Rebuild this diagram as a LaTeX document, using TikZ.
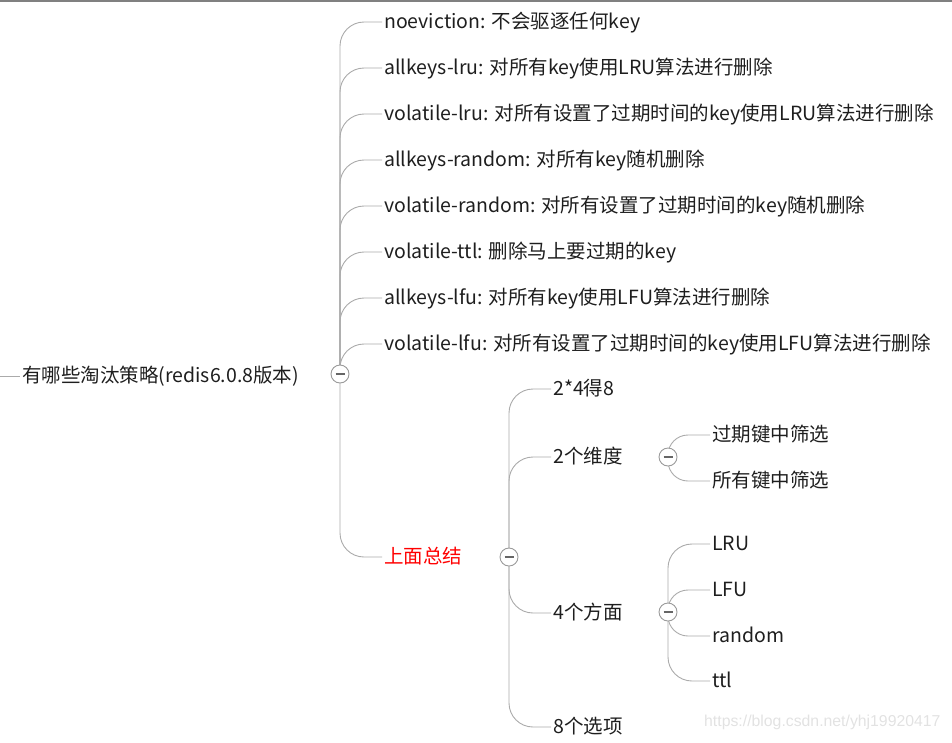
\documentclass[tikz,border=0pt]{standalone}
\usepackage{fontspec}
\setmainfont{Noto Sans CJK SC}
\newfontfamily\wmfont{Liberation Sans}
\definecolor{linegray}{HTML}{ABABAB}
\definecolor{foldgray}{HTML}{9A9A9A}
\definecolor{textdark}{HTML}{1E1E1E}
\definecolor{wmgray}{HTML}{E2E2E2}
\tikzset{
  branch/.style={draw=linegray, line width=0.9pt, rounded corners=24pt},
  topic/.style={anchor=west, inner xsep=2pt, inner ysep=0pt, text=textdark,
    text height=16pt, text depth=4pt, font=\fontsize{19.5}{20}\selectfont},
  fold/.style={circle, draw=foldgray, fill=white, minimum size=18pt, inner sep=0pt,
    line width=0.9pt, path picture={
      \draw[line width=1.5pt, black!60] ([xshift=-4.5pt]path picture bounding box.center)
        -- ([xshift=4.5pt]path picture bounding box.center);}},
}
\begin{document}
\begin{tikzpicture}[x=1pt, y=-1pt]
		%%%%% FRAME %%%%%
		\useasboundingbox (0,0) rectangle (952,742);
		\draw[line width=2.5pt, black!50] (0,1.2) -- (952,1.2);
		
		%%%%% ROOT %%%%%
		\coordinate (edgeL) at (0,376);
		\node[topic] (root) at (20,376) {有哪些淘汰策略(redis6.0.8版本)};
		\draw[branch] (edgeL) -- (root.west);
		
		%%%%% FIRST LEVEL %%%%%
		\coordinate (k0) at (340,374);
		\node[topic] (s1) at (382,22) {noeviction: 不会驱逐任何key};
		\node[topic] (s2) at (382,68) {allkeys-lru: 对所有key使用LRU算法进行删除};
		\node[topic] (s3) at (382,114) {volatile-lru: 对所有设置了过期时间的key使用LRU算法进行删除};
		\node[topic] (s4) at (382,160) {allkeys-random: 对所有key随机删除};
		\node[topic] (s5) at (382,206) {volatile-random: 对所有设置了过期时间的key随机删除};
		\node[topic] (s6) at (382,252) {volatile-ttl: 删除马上要过期的key};
		\node[topic] (s7) at (382,298) {allkeys-lfu: 对所有key使用LFU算法进行删除};
		\node[topic] (s8) at (382,344) {volatile-lfu: 对所有设置了过期时间的key使用LFU算法进行删除};
		\node[topic, text=red] (sum) at (382,557) {上面总结};
		
		\draw[branch] (k0) |- (s1.west);
		\draw[branch] (k0) |- (s2.west);
		\draw[branch] (k0) |- (s3.west);
		\draw[branch] (k0) |- (s4.west);
		\draw[branch] (k0) |- (s5.west);
		\draw[branch] (k0) |- (s6.west);
		\draw[branch] (k0) |- (s7.west);
		\draw[branch] (k0) |- (s8.west);
		\draw[branch] (k0) |- (sum.west);
		
		%%%%% SUMMARY %%%%%
		\coordinate (k1) at (509,557);
		\node[topic] (t1) at (551,389) {2*4得8};
		\node[topic] (t2) at (551,457) {2个维度};
		\node[topic] (t3) at (551,613) {4个方面};
		\node[topic] (t4) at (551,727) {8个选项};
		
		\draw[branch] (k1) |- (t1.west);
		\draw[branch] (k1) |- (t2.west);
		\draw[branch] (k1) |- (t3.west);
		\draw[branch] (k1) |- (t4.west);
		
		% dimensions
		\coordinate (k2) at (668,457);
		\node[topic] (d1) at (710,435) {过期键中筛选};
		\node[topic] (d2) at (710,481) {所有键中筛选};
		\draw[branch, rounded corners=20pt] (k2) |- (d1.west);
		\draw[branch, rounded corners=20pt] (k2) |- (d2.west);
		
		% aspects
		\coordinate (k3) at (668,612);
		\node[topic] (a1) at (710,544) {LRU};
		\node[topic] (a2) at (710,590) {LFU};
		\node[topic] (a3) at (710,636) {random};
		\node[topic] (a4) at (710,681) {ttl};
		\draw[branch] (k3) |- (a1.west);
		\draw[branch, rounded corners=20pt] (k3) |- (a2.west);
		\draw[branch, rounded corners=20pt] (k3) |- (a3.west);
		\draw[branch] (k3) |- (a4.west);
		
		%%%%% FOLD BUTTONS %%%%%
		\node[fold] (f0) at (k0) {};
		\node[fold] (f1) at (k1) {};
		\node[fold] (f2) at (k2) {};
		\node[fold] (f3) at (k3) {};
		
		\node[anchor=west, inner sep=0pt, text=wmgray, font=\wmfont\fontsize{15.8}{16}\selectfont]
		  (wm) at (704,722) {https://blog.csdn.net/yhj19920417};
		
		%%%%% END %%%%%
	\end{tikzpicture}
\end{document}
